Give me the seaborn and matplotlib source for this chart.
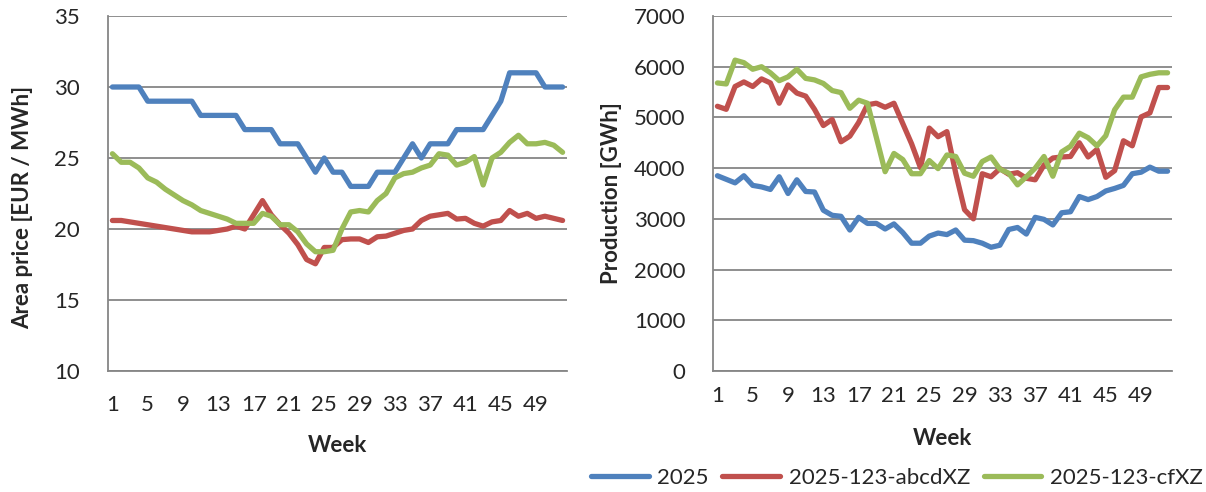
import matplotlib
matplotlib.use("Agg")
import matplotlib.pyplot as plt
import pandas as pd
import seaborn as sns

# ---- data -------------------------------------------------------------
weeks = list(range(1, 53))
series_names = ["2025", "2025-123-abcdXZ", "2025-123-cfXZ"]
series_colors = ["#4F81BD", "#C0504D", "#9BBB59"]
week_ticks = list(range(1, 53, 4))

price_2025 = [30, 30, 30, 30, 29, 29, 29, 29, 29, 29,
              28, 28, 28, 28, 28, 27, 27, 27, 27, 26,
              26, 26, 25, 24, 25, 24, 24, 23, 23, 23,
              24, 24, 24, 25, 26, 25, 26, 26, 26, 27,
              27, 27, 27, 28, 29, 31, 31, 31, 31, 30,
              30, 30]
price_abcd = [20.6, 20.6, 20.5, 20.4, 20.3, 20.2, 20.1, 20.0, 19.9, 19.8,
              19.8, 19.8, 19.9, 20.0, 20.2, 20.0, 21.0, 22.0, 21.0, 20.3,
              19.7, 18.9, 17.85, 17.55, 18.7, 18.7, 19.25, 19.3, 19.3, 19.05,
              19.45, 19.5, 19.7, 19.9, 20.0, 20.6, 20.9, 21.0, 21.1, 20.7,
              20.75, 20.4, 20.2, 20.5, 20.6, 21.3, 20.9, 21.1, 20.75, 20.9,
              20.75, 20.6]
price_cf = [25.3, 24.7, 24.7, 24.3, 23.6, 23.3, 22.8, 22.4, 22.0, 21.7,
            21.3, 21.1, 20.9, 20.7, 20.4, 20.4, 20.4, 21.1, 20.9, 20.3,
            20.3, 19.8, 18.95, 18.4, 18.4, 18.5, 20.0, 21.2, 21.3, 21.2,
            22.0, 22.5, 23.6, 23.9, 24.0, 24.3, 24.5, 25.3, 25.2, 24.5,
            24.7, 25.1, 23.1, 25.0, 25.4, 26.1, 26.6, 26.0, 26.0, 26.1,
            25.9, 25.4]

prod_2025 = [3850, 3780, 3710, 3850, 3660, 3630, 3580, 3830, 3500, 3770,
             3540, 3530, 3170, 3070, 3050, 2780, 3030, 2910, 2910, 2800,
             2900, 2730, 2520, 2520, 2660, 2720, 2690, 2780, 2580, 2570,
             2520, 2440, 2480, 2790, 2830, 2700, 3030, 2990, 2880, 3120,
             3140, 3440, 3380, 3440, 3550, 3600, 3660, 3890, 3920, 4020,
             3940, 3940]
prod_abcd = [5220, 5160, 5610, 5700, 5610, 5760, 5680, 5280, 5640, 5480,
             5420, 5160, 4840, 4960, 4520, 4630, 4900, 5250, 5280, 5200,
             5280, 4880, 4480, 4010, 4790, 4620, 4720, 3900, 3180, 3000,
             3890, 3830, 3990, 3880, 3910, 3800, 3770, 4060, 4200, 4220,
             4230, 4500, 4220, 4370, 3820, 3950, 4540, 4440, 5010, 5090,
             5590, 5590]
prod_cf = [5680, 5660, 6130, 6080, 5950, 6000, 5880, 5725, 5800, 5950,
           5770, 5740, 5670, 5530, 5490, 5180, 5340, 5280, 4610, 3930,
           4290, 4170, 3890, 3890, 4150, 3990, 4260, 4230, 3900, 3840,
           4130, 4220, 3980, 3900, 3670, 3830, 4000, 4230, 3840, 4320,
           4430, 4690, 4600, 4440, 4640, 5150, 5400, 5400, 5800, 5850,
           5880, 5880]


def long_frame(values_by_series):
    frames = []
    for name, vals in zip(series_names, values_by_series):
        frames.append(pd.DataFrame({"Week": weeks, "Value": vals, "Series": name}))
    return pd.concat(frames, ignore_index=True)


price_df = long_frame([price_2025, price_abcd, price_cf])
prod_df = long_frame([prod_2025, prod_abcd, prod_cf])

# ---- style ------------------------------------------------------------
sns.set_style("white")
plt.rcParams["font.family"] = ["Lato", "DejaVu Sans"]
plt.rcParams["font.size"] = 16
GRID = "#868686"

W, H = 1206, 492
fig = plt.figure(figsize=(W / 100, H / 100), dpi=100)
ax_l = fig.add_axes([108 / W, 1 - 371 / H, 459 / W, 355 / H])
ax_r = fig.add_axes([713 / W, 1 - 371 / H, 459 / W, 355 / H])

for ax, df in ((ax_l, price_df), (ax_r, prod_df)):
    sns.lineplot(data=df, x="Week", y="Value", hue="Series",
                 hue_order=series_names, palette=series_colors,
                 estimator=None, linewidth=3.8, legend=False, ax=ax,
                 solid_joinstyle="round", solid_capstyle="round")
    ax.set_xlim(0.5, 52.5)
    ax.set_xticks(week_ticks)
    ax.set_axisbelow(True)
    ax.grid(axis="y", color=GRID, linewidth=1.3)
    ax.grid(axis="x", visible=False)
    for side in ("top", "right"):
        ax.spines[side].set_visible(False)
    for side in ("left", "bottom"):
        ax.spines[side].set_color(GRID)
        ax.spines[side].set_linewidth(1.3)
    ax.tick_params(axis="y", length=7, width=1.3, color=GRID,
                   labelsize=16, pad=13)
    ax.tick_params(axis="x", length=0, labelsize=16)
    ax.set_xlabel("Week", fontsize=16, fontweight="bold")

ax_l.set_ylim(10, 35)
ax_l.set_yticks(range(10, 36, 5))
ax_l.set_ylabel("Area price [EUR / MWh]", fontsize=16, fontweight="bold")
ax_l.tick_params(axis="x", pad=17)
ax_l.yaxis.set_label_coords(-0.163, 0.46)
ax_l.xaxis.set_label_coords(0.5, -0.18)

ax_r.set_ylim(0, 7000)
ax_r.set_yticks(range(0, 7001, 1000))
ax_r.set_ylabel("Production [GWh]", fontsize=16, fontweight="bold")
ax_r.tick_params(axis="x", pad=11)
ax_r.yaxis.set_label_coords(-0.198, 0.5)
ax_r.xaxis.set_label_coords(0.5, -0.16)

fig.legend(handles=ax_r.get_lines()[:3], labels=series_names,
           loc="center", bbox_to_anchor=(897 / W, 1 - 478 / H),
           ncol=3, frameon=False, fontsize=16, handlelength=2.6,
           handletextpad=0.4, columnspacing=0.6, borderaxespad=0)

fig.savefig("out.png", dpi=100)
